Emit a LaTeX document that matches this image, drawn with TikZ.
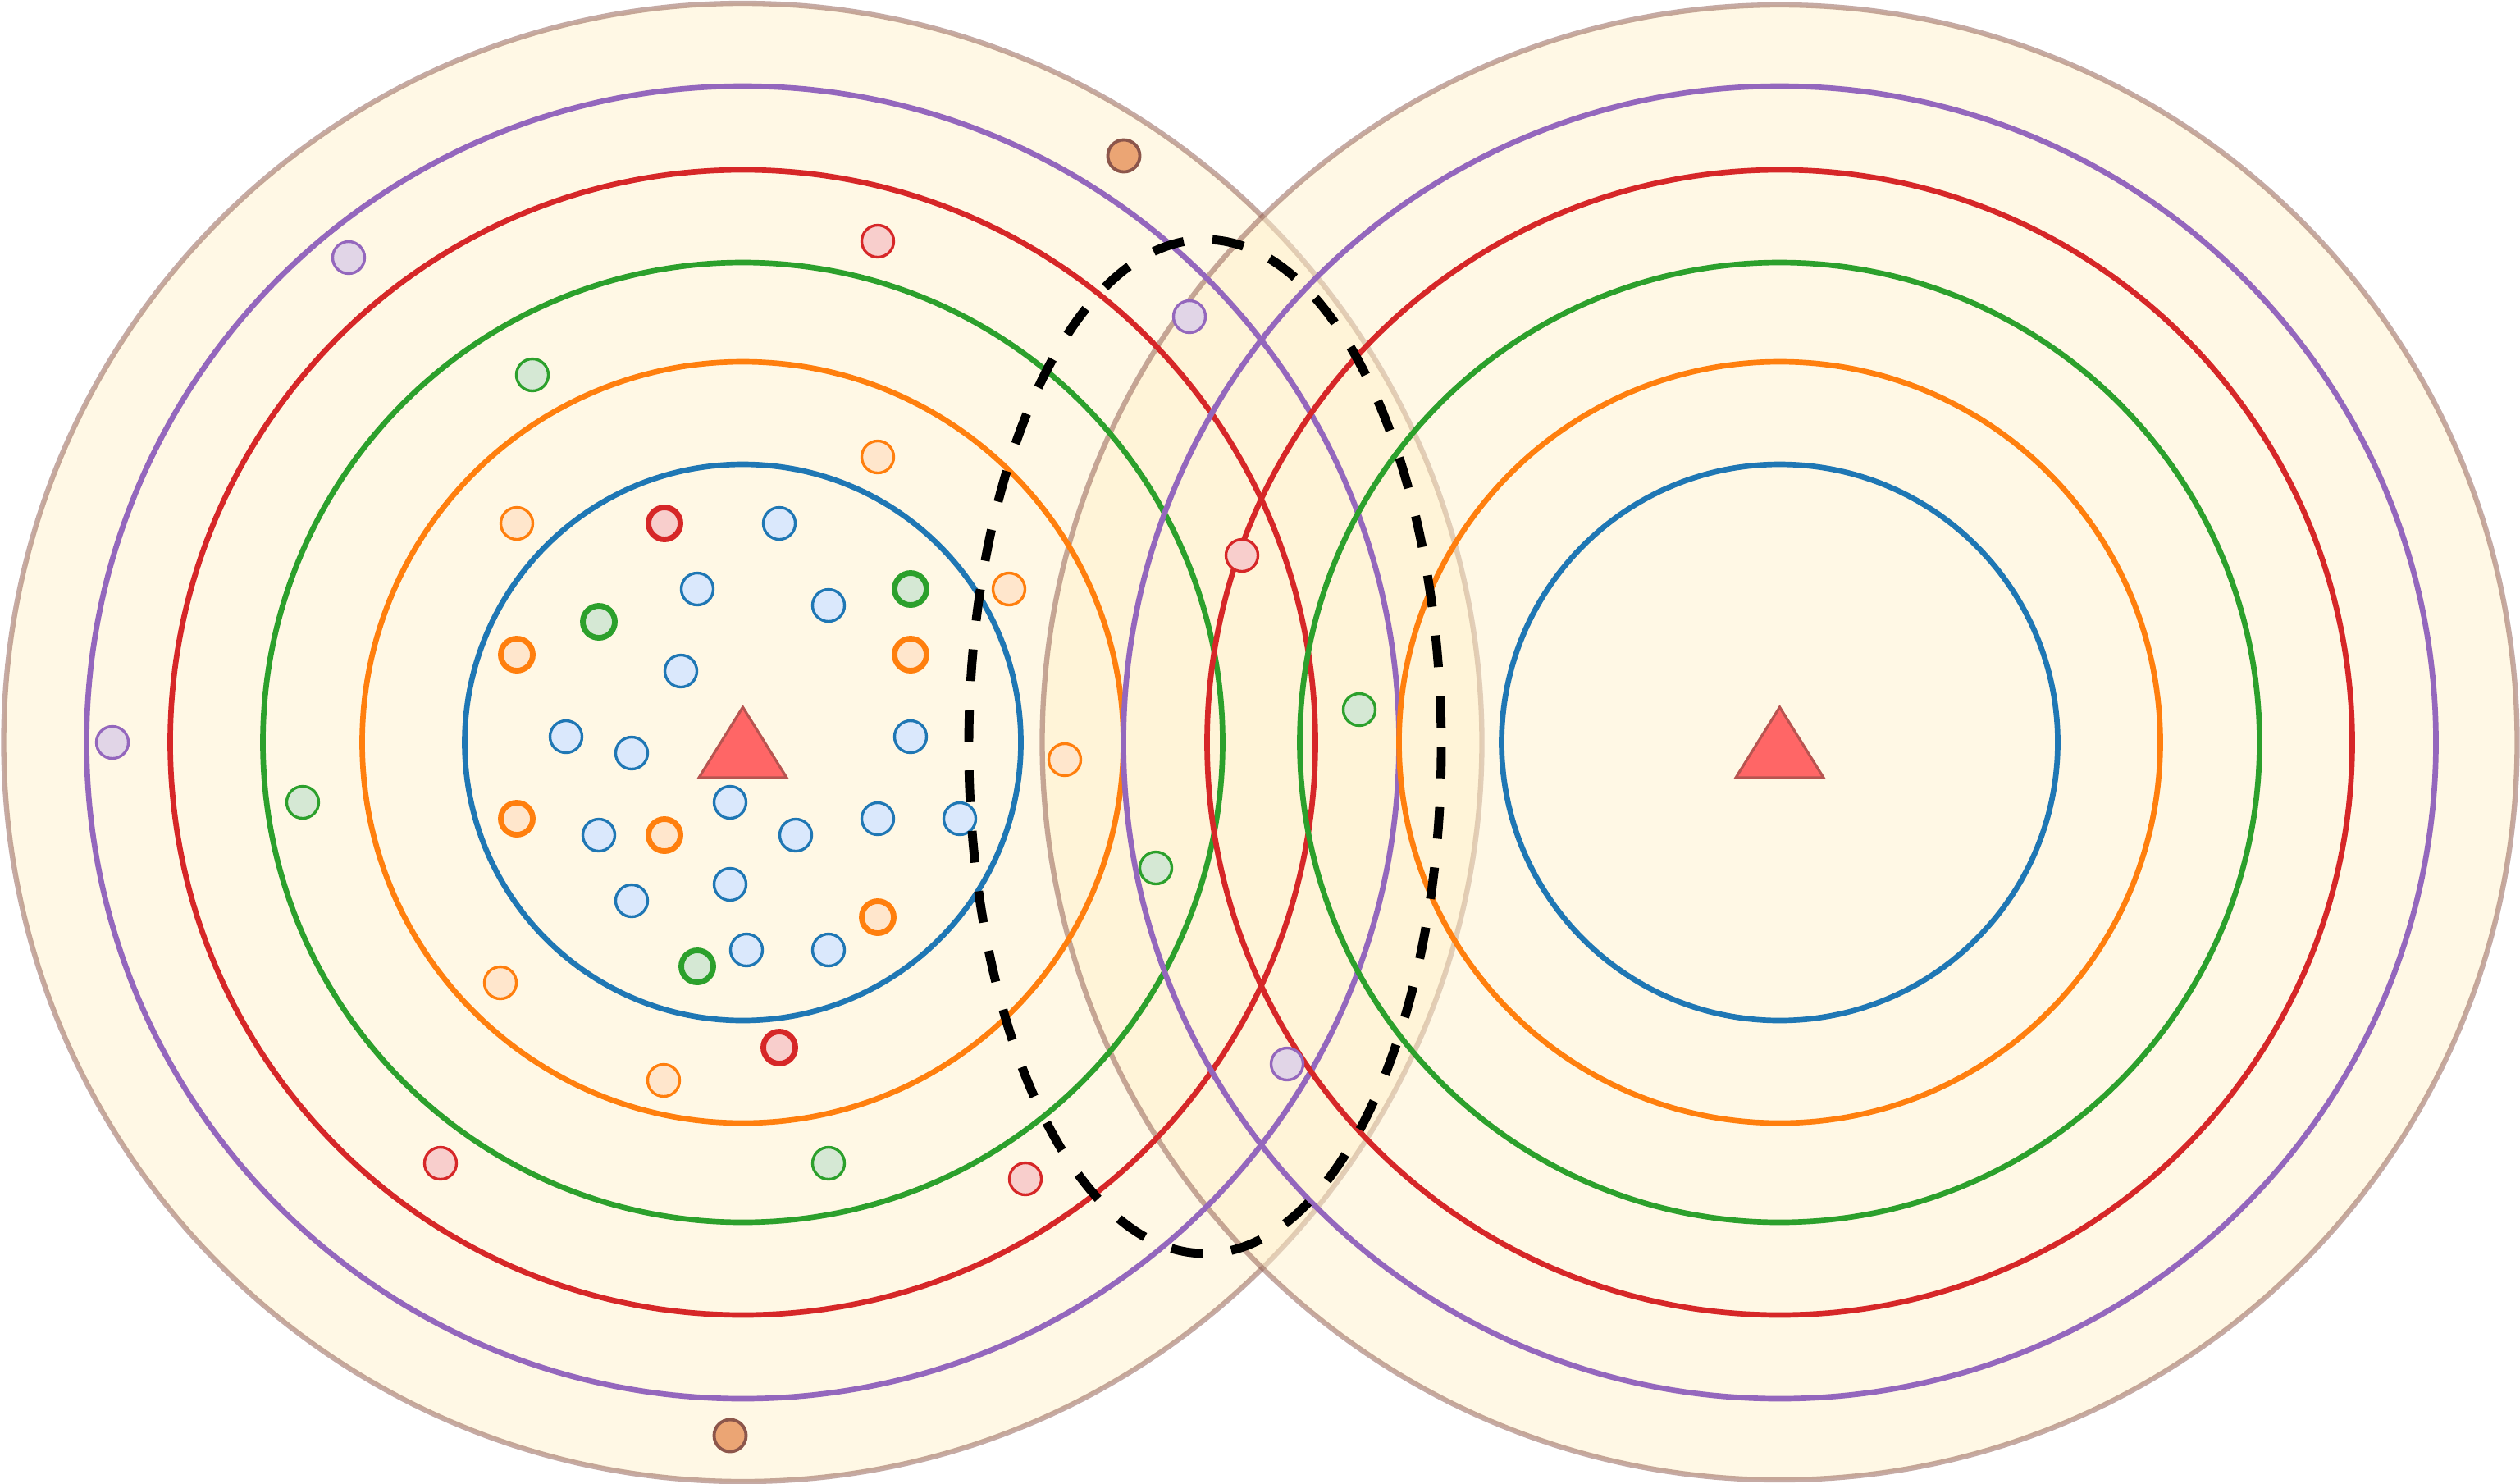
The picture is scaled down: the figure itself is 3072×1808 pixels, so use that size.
\documentclass[tikz,border=0pt]{standalone}
\usetikzlibrary{shapes.geometric}
\definecolor{ringblue}{HTML}{1F77B4}
\definecolor{ringorange}{HTML}{FF7F0E}
\definecolor{ringgreen}{HTML}{2CA02C}
\definecolor{ringred}{HTML}{D62728}
\definecolor{ringpurple}{HTML}{9467BD}
\definecolor{ringbrown}{HTML}{8C564B}
\definecolor{zonefill}{HTML}{FFF2CC}
\definecolor{lightblue}{HTML}{DAE8FC}
\definecolor{lightorange}{HTML}{FFE6CC}
\definecolor{lightgreen}{HTML}{D5E8D4}
\definecolor{lightred}{HTML}{F8CECC}
\definecolor{lightpurple}{HTML}{E1D5E7}
\definecolor{dotbrown}{HTML}{EBA574}
\definecolor{sitefill}{HTML}{FF6666}
\definecolor{siteline}{HTML}{B85450}

\begin{document}
\begin{tikzpicture}[
  x=0.01cm, y=-0.01cm,
  zone/.style={fill=zonefill, draw=ringbrown, opacity=0.5, line width=1.8pt},
  ring/.style={line width=1.9pt},
  hull/.style={draw=black, line width=3.1pt, dash pattern=on 11pt off 10pt},
  site/.style={fill=sitefill, draw=siteline, line width=0.9pt, line join=miter},
  dot/.style={circle, inner sep=0pt, minimum size=0.39cm, line width=0.95pt},
  bolddot/.style={dot, line width=1.95pt},
]

\fill[white] (0,0) rectangle (3072,1808);
\useasboundingbox (0,0) rectangle (3072,1808);

% centres of the two fields
\coordinate (L) at (905.5,905);
\coordinate (R) at (2169.5,905);

% outer zones
\draw[zone] (L) circle (901);
\draw[zone] (R) circle (899);

% rings
\foreach \c in {L,R}
  \foreach \r/\col in {339/ringblue, 464/ringorange, 585/ringgreen, 698/ringred, 800/ringpurple}
    \draw[ring, \col] (\c) circle (\r);

% sample points
\foreach \x/\y [count=\i] in {950/638, 850/718, 1010/738, 830/818, 690/898, 770/918, 1110/898, 890/978,
                              970/1018, 1070/998, 1170/998, 730/1018, 770/1098, 890/1078, 910/1158, 1010/1158}
  \node[dot, draw=ringblue, fill=lightblue] (blue\i) at (\x,\y) {};
\foreach \x/\y [count=\i] in {630/798, 1110/798, 630/998, 810/1018, 1070/1118}
  \node[bolddot, draw=ringorange, fill=lightorange] (orangeA\i) at (\x,\y) {};
\foreach \x/\y [count=\i] in {630/638, 610/1198, 1070/557, 1230/718, 1298/926, 809/1317}
  \node[dot, draw=ringorange, fill=lightorange] (orangeB\i) at (\x,\y) {};
\foreach \x/\y [count=\i] in {1110/718, 730/758, 850/1178}
  \node[bolddot, draw=ringgreen, fill=lightgreen] (greenA\i) at (\x,\y) {};
\foreach \x/\y [count=\i] in {649/457, 369/978, 1010/1418, 1409/1058, 1657/865}
  \node[dot, draw=ringgreen, fill=lightgreen] (greenB\i) at (\x,\y) {};
\foreach \x/\y [count=\i] in {810/638, 950/1277}
  \node[bolddot, draw=ringred, fill=lightred] (redA\i) at (\x,\y) {};
\foreach \x/\y [count=\i] in {1070/294, 537/1418, 1250/1437, 1514/677}
  \node[dot, draw=ringred, fill=lightred] (redB\i) at (\x,\y) {};
\foreach \x/\y [count=\i] in {425/314, 137/905, 1450/386, 1569/1297}
  \node[dot, draw=ringpurple, fill=lightpurple] (purple\i) at (\x,\y) {};
\foreach \x/\y [count=\i] in {1370/190, 890/1750}
  \node[dot, draw=ringbrown, fill=dotbrown, line width=1.1pt] (brown\i) at (\x,\y) {};

% sites
\foreach \c in {L,R}
  \draw[site] ([shift={(0,-43)}]\c) -- ([shift={(53.5,43)}]\c) -- ([shift={(-53.5,43)}]\c) -- cycle;

% dashed overlap region
\draw[hull] (1469,910) ellipse [x radius=288, y radius=618];

\end{tikzpicture}
\end{document}
